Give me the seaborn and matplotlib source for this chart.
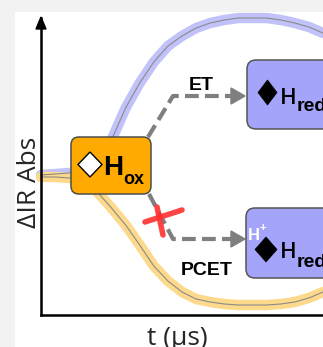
import matplotlib
matplotlib.use("Agg")
import matplotlib.pyplot as plt
import seaborn as sns
import pandas as pd
from matplotlib.patches import FancyBboxPatch, Polygon, Rectangle

# ---- data (time in µs, arbitrary ΔIR units) ----
t_us = [0.0, 0.5, 1.0, 1.5, 2.0, 2.5, 3.0, 3.5, 4.0, 4.5, 5.0,
        5.5, 6.0, 6.5, 7.0, 7.5, 8.0, 8.5, 9.0, 9.5, 10.0]
et_signal = [0.01, 0.02, 0.03, 0.06, 0.18, 0.36, 0.68, 0.93, 1.14, 1.30, 1.40,
             1.48, 1.53, 1.56, 1.58, 1.58, 1.58, 1.56, 1.53, 1.49, 1.43]
pcet_signal = [-0.01, -0.01, -0.02, -0.05, -0.16, -0.32, -0.49, -0.69, -0.90, -1.05, -1.16,
               -1.23, -1.26, -1.28, -1.29, -1.29, -1.29, -1.28, -1.26, -1.22, -1.16]
x_label = "t (µs)"
y_label = "ΔIR Abs"
path_labels = ["ET", "PCET"]

df = pd.DataFrame({"t": t_us, "ET": et_signal, "PCET": pcet_signal})

sns.set_theme(style="white")
W, H = 323, 347
fig = plt.figure(figsize=(W / 100, H / 100), dpi=100, facecolor="#f2f2f2")
fig.patches.append(Rectangle((15 / W, 0), 1, (H - 12) / H, transform=fig.transFigure,
                             facecolor="white", edgecolor="none", zorder=-5))

# data axes (pixel frame: x 41..323, y 315..18)
ax = fig.add_axes([41 / W, (H - 315) / H, (W - 41) / W, (315 - 18) / H])
ax.patch.set_alpha(0)
sns.lineplot(data=df, x="t", y="ET", ax=ax, color="#c2c2fa", lw=7.5,
             solid_capstyle="round", clip_on=False)
sns.lineplot(data=df, x="t", y="PCET", ax=ax, color="#fdd98c", lw=7.5,
             solid_capstyle="round", clip_on=False)
sns.lineplot(data=df, x="t", y="ET", ax=ax, color="#8a8a8a", lw=0.8, clip_on=False)
sns.lineplot(data=df, x="t", y="PCET", ax=ax, color="#8a8a8a", lw=0.8, clip_on=False)
ax.set_xlim(0, 10)
ax.set_ylim(-1.39, 1.58)
ax.set_xticks([]); ax.set_yticks([])
for s in ["top", "right"]:
    ax.spines[s].set_visible(False)
for s in ["left", "bottom"]:
    ax.spines[s].set_color("black")
    ax.spines[s].set_linewidth(1.8)

lab_font = dict(family=["Open Sans", "DejaVu Sans"], size=19)
ax.set_xlabel(x_label, **lab_font)
ax.set_ylabel(y_label, **lab_font)
ax.xaxis.label.set_va("baseline")
ax.yaxis.label.set_va("baseline")
ax.xaxis.set_label_coords((177 - 41) / (W - 41), -(345 - 315) / (315 - 18))
ax.yaxis.set_label_coords(-(41 - 36) / (W - 41), (315 - 182) / (315 - 18))

# overlay in pixel coordinates for the schematic
ov = fig.add_axes([0, 0, 1, 1])
ov.set_xlim(0, W); ov.set_ylim(H, 0)
ov.axis("off"); ov.patch.set_alpha(0)
ov.set_zorder(3)

# y-axis arrow head
ov.add_patch(Polygon([(41, 17), (36, 29), (46, 29)], closed=True, color="black"))

gray = "#7f7f7f"
dash = (0, (3.3, 1.5))
# ET path
ov.plot([148, 173, 233], [137, 96, 96], color=gray, lw=3, linestyle=dash)
ov.add_patch(Polygon([(231, 88), (231, 104), (245, 96)], closed=True, color=gray))
# PCET path
ov.plot([149, 173, 233], [194, 239, 239], color=gray, lw=3, linestyle=dash)
ov.add_patch(Polygon([(231, 231), (231, 247), (245, 239)], closed=True, color=gray))

# red cross
ov.plot([145, 182], [222, 210], color="#ff3030", lw=4, solid_capstyle="round", alpha=0.9)
ov.plot([157, 163], [207, 235], color="#ff3030", lw=4, solid_capstyle="round", alpha=0.9)

bold = dict(family=["Liberation Sans", "DejaVu Sans"], weight="bold", color="black")
ov.text(201, 90, path_labels[0], ha="center", va="baseline", size=14, **bold)
ov.text(207, 275, path_labels[1], ha="center", va="baseline", size=14, **bold)

# boxes
ov.add_patch(FancyBboxPatch((71, 137), 80, 57, boxstyle="round,pad=0,rounding_size=8",
                            facecolor="#ffaa00", edgecolor="#4d4d4d", lw=1.1, zorder=4))
ov.add_patch(FancyBboxPatch((247, 60), 110, 69, boxstyle="round,pad=0,rounding_size=9",
                            facecolor="#a4a4fa", edgecolor="#555555", lw=1.1, zorder=4))
ov.add_patch(FancyBboxPatch((246, 208), 110, 70, boxstyle="round,pad=0,rounding_size=9",
                            facecolor="#a4a4fa", edgecolor="#555555", lw=1.1, zorder=4))

# diamonds
ov.add_patch(Polygon([(90, 152), (102, 164.5), (90, 177), (78, 164.5)], closed=True,
                     facecolor="white", edgecolor="black", lw=1.0, zorder=5))
ov.add_patch(Polygon([(267.5, 80), (277, 92.5), (267.5, 105), (258, 92.5)], closed=True,
                     facecolor="black", edgecolor="black", lw=0.5, zorder=5))
ov.add_patch(Polygon([(266, 237), (277, 249.5), (266, 262), (255, 249.5)], closed=True,
                     facecolor="black", edgecolor="black", lw=0.5, zorder=5))

# box labels
ov.text(103, 175, "H", ha="left", va="baseline", size=20, zorder=6, **bold)
ov.text(123, 184, "ox", ha="left", va="baseline", size=13, zorder=6, **bold)
semi = dict(family=["Open Sans", "DejaVu Sans"], weight="semibold", color="black", zorder=6)
ov.text(280, 103.5, "H", ha="left", va="baseline", size=16, **semi)
ov.text(297, 111, "red", ha="left", va="baseline", size=14, zorder=6, **bold)
ov.text(280, 257.5, "H", ha="left", va="baseline", size=16, **semi)
ov.text(297, 267, "red", ha="left", va="baseline", size=14, zorder=6, **bold)
ov.text(247.5, 239.5, "H", ha="left", va="baseline", size=12, color="white",
        family=["Liberation Sans", "DejaVu Sans"], weight="bold", zorder=6)
ov.text(259.5, 231, "+", ha="left", va="baseline", size=8, color="white",
        family=["Liberation Sans", "DejaVu Sans"], weight="bold", zorder=6)

fig.savefig("out.png", dpi=100, facecolor=fig.get_facecolor())
